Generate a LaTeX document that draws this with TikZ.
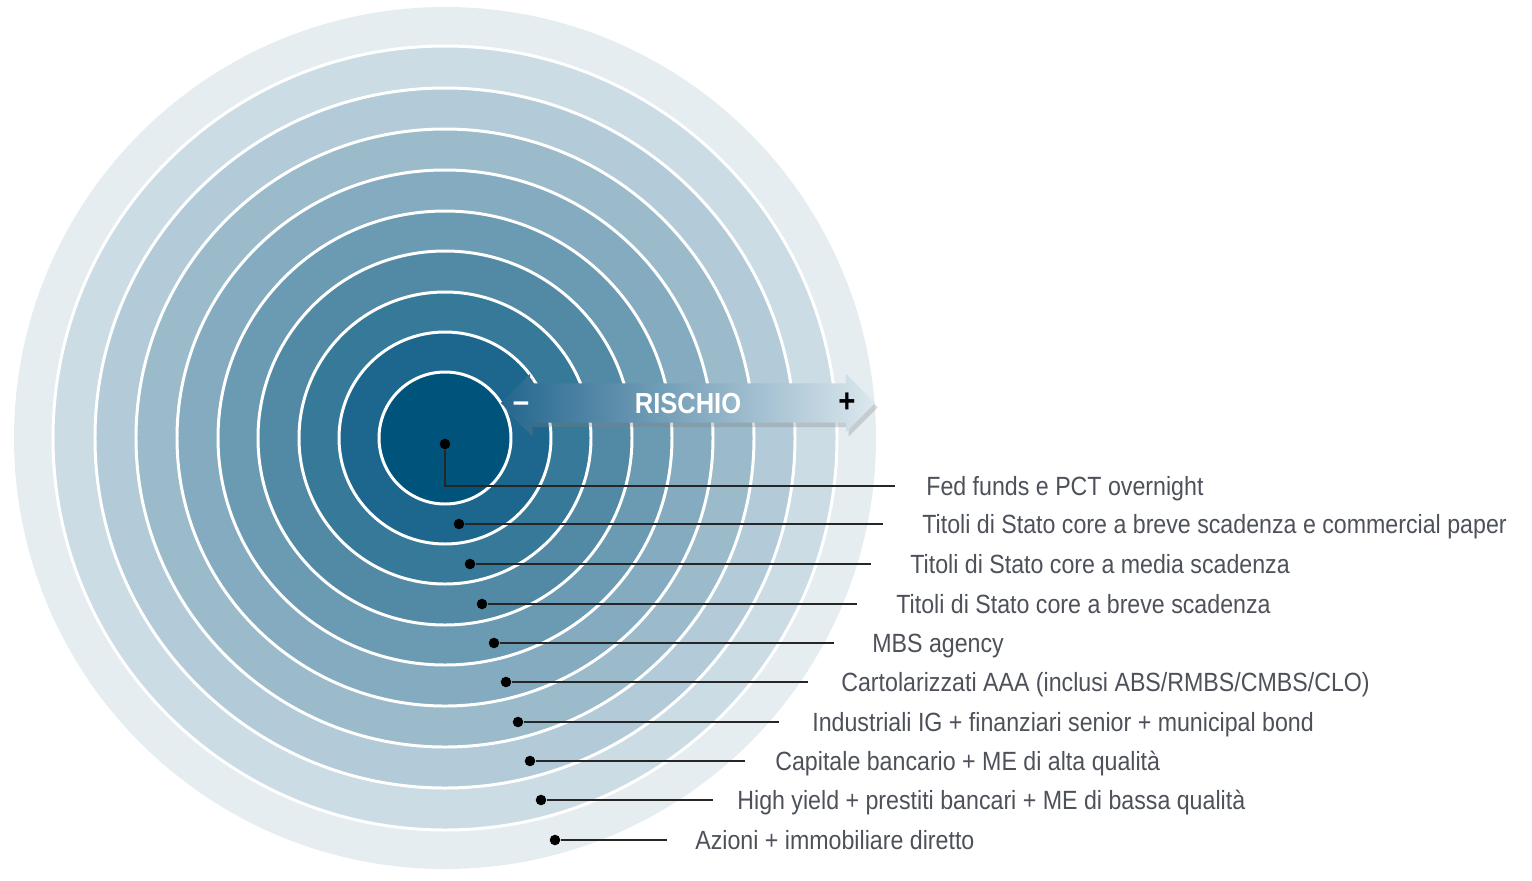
\documentclass[tikz,border=0pt]{standalone}
\usepackage{fontspec}
\setmainfont{Liberation Sans}[FakeStretch=0.88]
\usepackage{xcolor}
\usepackage{tikz}
\usetikzlibrary{shapes.arrows,shadows,positioning}
\definecolor{ringA}{HTML}{00537B}
\definecolor{ringB}{HTML}{1D668E}
\definecolor{ringC}{HTML}{367998}
\definecolor{ringD}{HTML}{528AA6}
\definecolor{ringE}{HTML}{6A9BB3}
\definecolor{ringF}{HTML}{84ABBF}
\definecolor{ringG}{HTML}{9BBBCB}
\definecolor{ringH}{HTML}{B3CBD8}
\definecolor{ringI}{HTML}{CBDCE4}
\definecolor{ringJ}{HTML}{E5EDF1}
\definecolor{labelGray}{HTML}{4D5159}
\definecolor{arrowDark}{HTML}{24668E}
\definecolor{arrowLight}{HTML}{DCE8EE}

\begin{document}
\begin{tikzpicture}[x=0.02cm, y=0.02cm,
  ring/.style={draw=white, line width=1.7pt},
  dot/.style={circle, fill=black, inner sep=0pt, minimum size=6pt},
  leader/.style={draw=black!85, line width=0.8pt},
  lab/.style={anchor=west, inner sep=0pt, text=labelGray, font=\fontsize{15}{18}\selectfont, text height=10.7pt, text depth=0pt},
  sign/.style={inner sep=0pt, font=\bfseries\fontsize{19}{18}\selectfont}]
\useasboundingbox (0,0) rectangle (1532,-880);
\coordinate (ctr) at (445,-438);

\fill[ringJ] (ctr) circle (431);
\filldraw[ring, fill=ringI] (ctr) circle (392);
\filldraw[ring, fill=ringH] (ctr) circle (350);
\filldraw[ring, fill=ringG] (ctr) circle (309);
\filldraw[ring, fill=ringF] (ctr) circle (268);
\filldraw[ring, fill=ringE] (ctr) circle (227);
\filldraw[ring, fill=ringD] (ctr) circle (187);
\filldraw[ring, fill=ringC] (ctr) circle (146);
\filldraw[ring, fill=ringB] (ctr) circle (106);
\filldraw[ring, fill=ringA] (ctr) circle (66);

\node[double arrow, double arrow head extend=5.4pt, minimum height=213pt, minimum width=32.9pt,
  inner xsep=0pt, inner ysep=0pt, text height=16.7pt, text depth=5.3pt,
  left color=arrowDark, right color=arrowLight,
  drop shadow={opacity=0.3, shadow xshift=1.5pt, shadow yshift=-2.5pt},
  text=white, font=\bfseries\fontsize{16.5}{18}\selectfont] (risk) at (688,-403) {RISCHIO};
\node[sign, text=white] (minus) at (521,-407) {--};
\node[sign, text=black] (plus) at (847,-403) {+};

\node[dot] (d1) at (445,-444) {};
\node[dot] (d2) at (459,-524) {};
\node[dot] (d3) at (470,-564) {};
\node[dot] (d4) at (482,-604) {};
\node[dot] (d5) at (494,-643) {};
\node[dot] (d6) at (506,-682) {};
\node[dot] (d7) at (518,-722) {};
\node[dot] (d8) at (530,-761) {};
\node[dot] (d9) at (541,-800) {};
\node[dot] (d10) at (555,-840) {};

\node[lab] (l1) at (926,-486) {Fed funds e PCT overnight};
\node[lab] (l2) at (922,-524) {Titoli di Stato core a breve scadenza e commercial paper};
\node[lab] (l3) at (910,-564) {Titoli di Stato core a media scadenza};
\node[lab] (l4) at (896,-604) {Titoli di Stato core a breve scadenza};
\node[lab] (l5) at (872,-643) {MBS agency};
\node[lab] (l6) at (841,-682) {Cartolarizzati AAA (inclusi ABS/RMBS/CMBS/CLO)};
\node[lab] (l7) at (812,-722) {Industriali IG + finanziari senior + municipal bond};
\node[lab] (l8) at (775,-761) {Capitale bancario + ME di alta qualità};
\node[lab] (l9) at (737,-800) {High yield + prestiti bancari + ME di bassa qualità};
\node[lab] (l10) at (695,-840) {Azioni + immobiliare diretto};

\draw[leader, shorten >=17.6pt] (d1) |- (l1);
\draw[leader, shorten >=22pt] (d2) -- (l2);
\draw[leader, shorten >=22pt] (d3) -- (l3);
\draw[leader, shorten >=22pt] (d4) -- (l4);
\draw[leader, shorten >=21.5pt] (d5) -- (l5);
\draw[leader, shorten >=18.7pt] (d6) -- (l6);
\draw[leader, shorten >=18.7pt] (d7) -- (l7);
\draw[leader, shorten >=17pt] (d8) -- (l8);
\draw[leader, shorten >=13.6pt] (d9) -- (l9);
\draw[leader, shorten >=15.9pt] (d10) -- (l10);
\end{tikzpicture}
\end{document}
